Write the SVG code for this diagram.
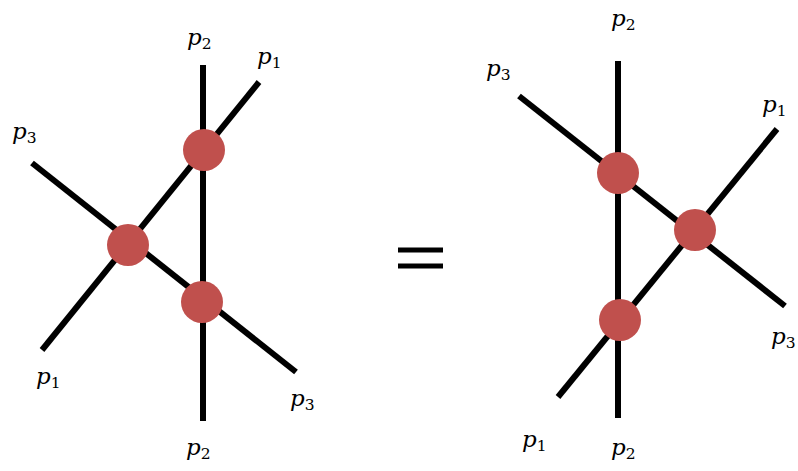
<svg xmlns="http://www.w3.org/2000/svg" width="798" height="471" viewBox="0 0 798 471">
<style>
.ln{stroke:#000;stroke-width:6;fill:none}
.nd{fill:#c0504d}
.lb{font-family:"DejaVu Serif","Liberation Serif",serif;font-style:italic;font-size:23px;fill:#000}
.sb{font-style:normal;font-size:15.5px}
</style>
<rect width="798" height="471" fill="#fff"/>
<g id="connectors">
<line class="ln" x1="203" y1="65" x2="203" y2="421"/>
<line class="ln" x1="42" y1="350" x2="259" y2="82"/>
<line class="ln" x1="32" y1="163" x2="296" y2="372"/>
<line class="ln" x1="618" y1="61" x2="618" y2="418"/>
<line class="ln" x1="519" y1="96" x2="785" y2="306"/>
<line class="ln" x1="558" y1="397" x2="777" y2="129"/>
</g>
<g id="equals">
<rect x="398" y="247.5" width="45" height="5" fill="#000"/>
<rect x="398" y="263.5" width="45" height="5" fill="#000"/>
</g>
<g id="L-v1"><circle class="nd" cx="204" cy="150" r="21"/></g>
<g id="L-v2"><circle class="nd" cx="128" cy="245" r="21"/></g>
<g id="L-v3"><circle class="nd" cx="202" cy="302" r="21"/></g>
<g id="R-v1"><circle class="nd" cx="618" cy="173" r="21"/></g>
<g id="R-v2"><circle class="nd" cx="695" cy="230" r="21"/></g>
<g id="R-v3"><circle class="nd" cx="620" cy="320" r="21"/></g>
<g id="labels">
<text class="lb" x="187" y="45">p<tspan class="sb" dy="4">2</tspan></text>
<text class="lb" x="257" y="64">p<tspan class="sb" dy="4">1</tspan></text>
<text class="lb" x="12" y="139">p<tspan class="sb" dy="4">3</tspan></text>
<text class="lb" x="36" y="384">p<tspan class="sb" dy="4">1</tspan></text>
<text class="lb" x="290" y="406">p<tspan class="sb" dy="4">3</tspan></text>
<text class="lb" x="186" y="455">p<tspan class="sb" dy="4">2</tspan></text>
<text class="lb" x="611" y="26">p<tspan class="sb" dy="4">2</tspan></text>
<text class="lb" x="486" y="76">p<tspan class="sb" dy="4">3</tspan></text>
<text class="lb" x="762" y="112">p<tspan class="sb" dy="4">1</tspan></text>
<text class="lb" x="771" y="344">p<tspan class="sb" dy="4">3</tspan></text>
<text class="lb" x="522" y="447">p<tspan class="sb" dy="4">1</tspan></text>
<text class="lb" x="611" y="455">p<tspan class="sb" dy="4">2</tspan></text>
</g>
</svg>
